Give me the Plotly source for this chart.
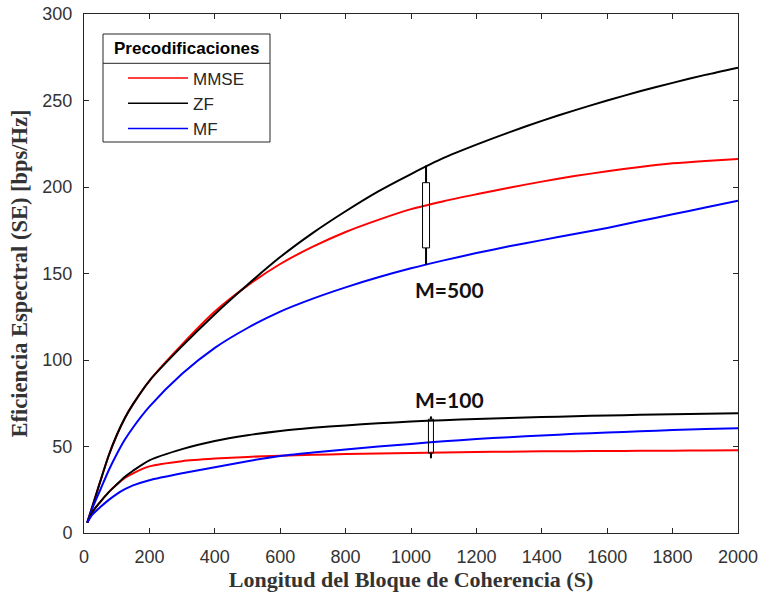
import plotly.graph_objects as go

# ---------------- data ----------------
block_length = [10, 25, 50, 75, 100, 125, 150, 200, 300, 400, 500, 600, 700, 800,
                900, 1000, 1100, 1200, 1300, 1400, 1500, 1600, 1700, 1800, 1900, 2000]

# M = 500
mmse_500 = [6, 15, 30, 44.5, 56.5, 66.5, 74.5, 88, 109, 128, 143, 155.5, 165.5, 174,
            181, 187.2, 191.8, 195.8, 199.6, 203.1, 206.3, 209.1, 211.6, 213.7, 215.1, 216.2]
zf_500 = [6, 15, 30, 44.5, 56.5, 66.5, 74.5, 88, 108, 126.5, 143.5, 159.5, 173.5, 186,
          197.5, 207.5, 216.8, 224.5, 231.6, 238.2, 244.3, 250.0, 255.3, 260.2, 264.8, 269]
mf_500 = [6, 14, 25, 36, 45.5, 54, 61, 73, 92, 107, 118.5, 128, 135.5, 142,
          147.8, 153, 157.6, 161.8, 165.7, 169.3, 172.8, 176.3, 180.3, 184.2, 188.1, 192]

# M = 100
mmse_100 = [6, 12, 18, 23.5, 28, 31.8, 34.5, 38.5, 41.5, 43, 44, 44.7, 45.2, 45.6,
            46, 46.3, 46.6, 46.8, 47, 47.2, 47.3, 47.4, 47.5, 47.6, 47.7, 47.8]
zf_100 = [6, 12, 18, 23.5, 28, 32.5, 36, 42, 48.5, 53.2, 56.5, 59, 60.8, 62.2,
          63.4, 64.4, 65.2, 65.9, 66.5, 67, 67.5, 67.9, 68.3, 68.6, 68.9, 69.2]
mf_100 = [6, 10.5, 15, 19, 22.5, 25.3, 27.5, 30.5, 34.5, 38, 41.5, 44.5, 46.5, 48.3,
          50, 51.5, 53, 54.3, 55.4, 56.4, 57.3, 58.1, 58.8, 59.5, 60.1, 60.6]

series_names = ["MMSE", "ZF", "MF"]
x_ticks = [0, 200, 400, 600, 800, 1000, 1200, 1400, 1600, 1800, 2000]
y_ticks = [0, 50, 100, 150, 200, 250, 300]

# group markers
group_500 = dict(x=1046, y_bot=155.2, box_bot=164.8, box_top=202.5, y_top=212.5,
                 label="M=500", lx=1118, ly=140.5)
group_100 = dict(x=1061, y_bot=43.2, box_bot=46.2, box_top=65.8, y_top=67.4,
                 label="M=100", lx=1118, ly=77.4)

colors = {"MMSE": "#ff0000", "ZF": "#000000", "MF": "#0000ff"}

# ---------------- layout geometry (pixels) ----------------
W, H = 762, 597
L, R, T, B = 84, 24, 14, 64
PW, PH = W - L - R, H - T - B


def px(xp):
    return (xp - L) / PW


def py(yp):
    return (H - B - yp) / PH


fig = go.Figure()
for name, ys in zip(series_names, [mmse_500, zf_500, mf_500]):
    fig.add_trace(go.Scatter(x=block_length, y=ys, mode="lines", name=name + " (M=500)",
                             legendgroup=name, showlegend=False,
                             line=dict(color=colors[name], width=2, shape="spline", smoothing=0.7)))
for name, ys in zip(series_names, [mmse_100, zf_100, mf_100]):
    fig.add_trace(go.Scatter(x=block_length, y=ys, mode="lines", name=name + " (M=100)",
                             legendgroup=name, showlegend=False,
                             line=dict(color=colors[name], width=2, shape="spline", smoothing=0.7)))

shapes = []
annotations = []
for g, w in [(group_500, 3.5), (group_100, 2.5)]:
    shapes.append(dict(type="line", xref="x", yref="y", x0=g["x"], x1=g["x"],
                       y0=g["y_bot"], y1=g["box_bot"], line=dict(color="black", width=2)))
    shapes.append(dict(type="line", xref="x", yref="y", x0=g["x"], x1=g["x"],
                       y0=g["box_top"], y1=g["y_top"], line=dict(color="black", width=2)))
    shapes.append(dict(type="rect", xref="x", yref="y", xsizemode="pixel", xanchor=g["x"],
                       x0=-w, x1=w, y0=g["box_bot"], y1=g["box_top"],
                       line=dict(color="black", width=1), fillcolor="rgba(0,0,0,0)"))
    annotations.append(dict(x=g["lx"], y=g["ly"], xref="x", yref="y", text="<b>" + g["label"] + "</b>",
                            showarrow=False, xanchor="center", yanchor="middle",
                            font=dict(family="Lato", size=21, color="#111111")))

# ---------------- legend (drawn box) ----------------
leg_x0, leg_x1, leg_y0, leg_y1 = 103, 270, 34, 142
sep_y = 63.3
shapes.append(dict(type="rect", xref="paper", yref="paper", x0=px(leg_x0), x1=px(leg_x1),
                   y0=py(leg_y1), y1=py(leg_y0), line=dict(color="#262626", width=1),
                   fillcolor="white", layer="above"))
shapes.append(dict(type="line", xref="paper", yref="paper", x0=px(leg_x0), x1=px(leg_x1),
                   y0=py(sep_y), y1=py(sep_y), line=dict(color="#262626", width=1)))
annotations.append(dict(x=px((leg_x0 + leg_x1) / 2), y=py(48.5), xref="paper", yref="paper",
                        text="<b>Precodificaciones</b>", showarrow=False,
                        xanchor="center", yanchor="middle",
                        font=dict(family="Liberation Sans", size=17, color="black")))
for i, name in enumerate(series_names):
    yy = 78 + i * 25.3
    shapes.append(dict(type="line", xref="paper", yref="paper", x0=px(128), x1=px(188),
                       y0=py(yy), y1=py(yy), line=dict(color=colors[name], width=1.5)))
    annotations.append(dict(x=px(191), y=py(yy + 1), xref="paper", yref="paper", text=name,
                            showarrow=False, xanchor="left", yanchor="middle",
                            font=dict(family="Liberation Sans", size=17, color="#262626")))

axis_common = dict(showline=True, linecolor="#262626", linewidth=1, mirror="ticks",
                   ticks="inside", ticklen=5, tickcolor="#262626", showgrid=False,
                   zeroline=False, automargin=False,
                   tickfont=dict(family="Liberation Sans", size=18, color="#333333"))

fig.update_layout(
    width=W, height=H,
    margin=dict(l=L, r=R, t=T, b=B),
    paper_bgcolor="white", plot_bgcolor="white",
    xaxis=dict(range=[0, 2000], tickvals=x_ticks, ticklabelstandoff=7,
               title=dict(text="<b>Longitud del Bloque de Coherencia (S)</b>", standoff=3,
                          font=dict(family="Liberation Serif", size=22, color="#333333")),
               **axis_common),
    yaxis=dict(range=[0, 300], tickvals=y_ticks, ticklabelstandoff=7,
               title=dict(text="<b>Eficiencia Espectral (SE) [bps/Hz]</b>", standoff=8,
                          font=dict(family="Liberation Serif", size=22.5, color="#333333")),
               **axis_common),
    shapes=shapes,
    annotations=annotations,
    showlegend=False,
)

fig.write_html("out.html", post_script="document.body.style.margin='0px';",
               config={"displayModeBar": False})
